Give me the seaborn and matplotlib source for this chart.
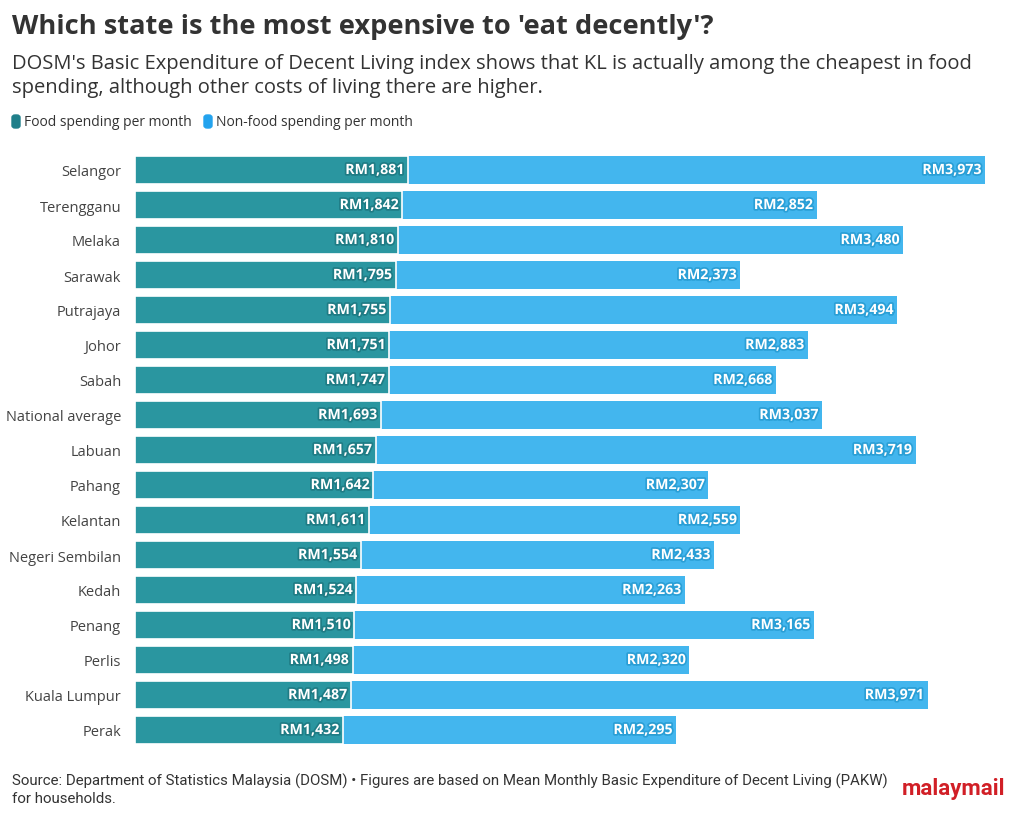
import matplotlib
matplotlib.use("Agg")
import matplotlib.pyplot as plt
import matplotlib.patheffects as pe
from matplotlib.patches import FancyBboxPatch
import seaborn as sns
import pandas as pd

states = ["Selangor", "Terengganu", "Melaka", "Sarawak", "Putrajaya", "Johor", "Sabah",
          "National average", "Labuan", "Pahang", "Kelantan", "Negeri Sembilan", "Kedah",
          "Penang", "Perlis", "Kuala Lumpur", "Perak"]
food = [1881, 1842, 1810, 1795, 1755, 1751, 1747, 1693, 1657, 1642, 1611, 1554, 1524,
        1510, 1498, 1487, 1432]
nonfood = [3973, 2852, 3480, 2373, 3494, 2883, 2668, 3037, 3719, 2307, 2559, 2433, 2263,
           3165, 2320, 3971, 2295]

FOOD_C = "#2a96a0"
NONFOOD_C = "#43b6ee"

sns.set_theme(style="white")
plt.rcParams["font.family"] = ["Open Sans", "DejaVu Sans"]

df = pd.DataFrame({"state": states, "food": food, "nonfood": nonfood})
df["total"] = df["food"] + df["nonfood"]

fig = plt.figure(figsize=(10.2, 8.2), dpi=100)
ax = fig.add_axes([135 / 1020, 1 - 748.5 / 820, 850 / 1020, 595 / 820])

sns.barplot(data=df, x="total", y="state", color=NONFOOD_C, width=0.82, ax=ax,
            saturation=1, linewidth=0)
sns.barplot(data=df, x="food", y="state", color=FOOD_C, width=0.82, ax=ax,
            saturation=1, edgecolor="white", linewidth=1.2)

ax.set_xlim(0, df["total"].max())
ax.set_ylim(len(states) - 0.5, -0.5)
ax.set_xlabel("")
ax.set_ylabel("")
ax.set_xticks([])
for s in ax.spines.values():
    s.set_visible(False)
ax.tick_params(axis="y", length=0, pad=10, labelsize=10.5, labelcolor="#444444")

for i, (f, t, n) in enumerate(zip(df["food"], df["total"], df["nonfood"])):
    ax.text(f - 25, i, f"RM{f:,}", ha="right", va="center", color="white",
            fontsize=10.2, fontweight="bold",
            path_effects=[pe.withStroke(linewidth=2.5, foreground="#1f7c85")])
    ax.text(t - 25, i, f"RM{n:,}", ha="right", va="center", color="white",
            fontsize=10.2, fontweight="bold",
            path_effects=[pe.withStroke(linewidth=2.5, foreground="#2a9fd6")])

# Titles
fig.text(12 / 1020, 1 - 27 / 820, "Which state is the most expensive to 'eat decently'?",
         fontsize=19.6, fontweight="bold", color="#333333", va="center", ha="left")
fig.text(12 / 1020, 1 - 76 / 820,
         "DOSM's Basic Expenditure of Decent Living index shows that KL is actually among the cheapest in food\n"
         "spending, although other costs of living there are higher.",
         fontsize=14.5, color="#333333", va="center", ha="left", linespacing=1.25)

# Legend
fig.patches.append(FancyBboxPatch((12 / 1020, 1 - 129 / 820), 8 / 1020, 13 / 820,
                                  boxstyle="round,pad=0,rounding_size=0.003",
                                  transform=fig.transFigure, color="#1f7f8a"))
fig.text(24 / 1020, 1 - 122 / 820, "Food spending per month", fontsize=10,
         color="#333333", va="center", ha="left")
fig.patches.append(FancyBboxPatch((204 / 1020, 1 - 129 / 820), 8 / 1020, 13 / 820,
                                  boxstyle="round,pad=0,rounding_size=0.003",
                                  transform=fig.transFigure, color="#23a3ee"))
fig.text(216 / 1020, 1 - 122 / 820, "Non-food spending per month", fontsize=10,
         color="#333333", va="center", ha="left")

# Footer
fig.text(12 / 1020, 1 - 790 / 820,
         "Source: Department of Statistics Malaysia (DOSM) \u2022 Figures are based on Mean Monthly Basic Expenditure of Decent Living (PAKW)\n"
         "for households.",
         fontsize=10.8, color="#333333", va="center", ha="left", linespacing=1.25,
         family=["Roboto", "DejaVu Sans"])
fig.text(1005 / 1020, 1 - 789 / 820, "malaymail", fontsize=16, fontweight="bold",
         color="#d11f26", va="center", ha="right",
         family=["Roboto", "DejaVu Sans"])

fig.savefig("out.png", dpi=100)
